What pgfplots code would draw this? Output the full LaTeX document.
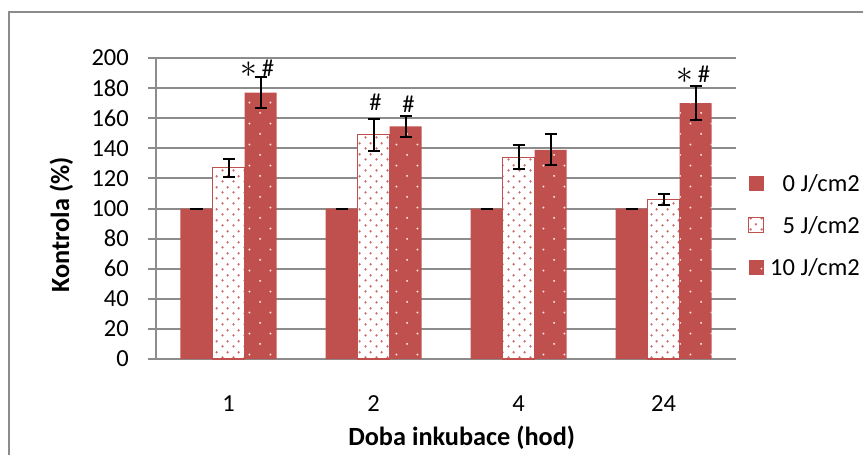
\documentclass[border=0pt]{standalone}
\usepackage{pgfplots}
\pgfplotsset{compat=1.18}
\usepackage{pgfplotstable}
\usepackage{graphicx}
\usepackage{fontspec}
\setmainfont{Carlito}
\usetikzlibrary{patterns.meta}
\definecolor{barred}{HTML}{C0504D}
\definecolor{gridgray}{HTML}{8C8C8C}
\newcommand\cf{\fontsize{24.5bp}{29bp}\selectfont}
\newcommand\lf{\fontsize{26.3bp}{31bp}\selectfont\bfseries}
\newcommand\myast{\raisebox{-1.5bp}{\scalebox{1.35}{$\ast$}}}

\tikzdeclarepattern{
  name=reddots, type=colored,
  bounding box={(0,0) and (11bp,10.6bp)},
  tile size={(11bp,10.6bp)},
  code={
    \fill[barred!85!white] (2.75bp,2.65bp) circle (1.35bp);
    \fill[barred!85!white] (8.25bp,7.95bp) circle (1.35bp);
  }
}
\tikzdeclarepattern{
  name=whitedots, type=colored,
  bounding box={(0,0) and (21.3bp,21.3bp)},
  tile size={(21.3bp,21.3bp)},
  code={
    \fill[white!85!barred] (5.3bp,5.3bp) circle (1.1bp);
    \fill[white!85!barred] (15.95bp,15.95bp) circle (1.1bp);
  }
}

\pgfplotstableread{
x v0 e0 v5 e5 v10 e10
0 100 0 127 6 177 10.5
1 100 0 149 10.5 154.5 7
2 100 0 134 8 139 10.3
3 100 0 106 3.7 170 11.5
}\data

\begin{document}
\begin{tikzpicture}
\useasboundingbox (0,0) rectangle (863bp,-455bp);
\clip (0,0) rectangle (863bp,-455bp);
\draw[gridgray, line width=2bp] (9bp,-12bp) rectangle (900bp,-500bp);
\begin{axis}[
  at={(156bp,-359bp)}, anchor=south west,
  scale only axis, width=580bp, height=301bp,
  xmin=-0.5, xmax=3.5, ymin=0, ymax=200,
  ybar=0pt, bar width=32bp,
  legend image code/.code={
    \pgfpathrectangle{\pgfpoint{0bp}{-21bp}}{\pgfpoint{15bp}{42bp}}\pgfusepath{discard}
    \path (0bp,-7.5bp) rectangle (15bp,7.5bp);
  },
  axis x line*=bottom, axis y line*=left,
  axis line style={gridgray, line width=2bp, -},
  xtick={0,1,2,3}, xticklabels={1,2,4,24},
  xtick style={draw=none},
  ytick={0,20,...,200},
  ytick style={gridgray, line width=2bp},
  tick align=outside, major tick length=8bp,
  ymajorgrids, grid style={gridgray, line width=2bp},
  /pgf/number format/assume math mode=true,
  tick label style={font=\cf},
  yticklabel style={anchor=east, inner sep=0pt, xshift=-19bp},
  xticklabel style={anchor=base, inner sep=0pt, yshift=-44bp},
  legend style={draw=none, fill=none, at={(1.0207,0.6545)}, anchor=north west,
    inner sep=0pt, outer sep=0pt, row sep=0pt, column sep=6bp,
    nodes={inner sep=0pt, font=\cf, text height=16bp, text depth=0bp}},
  legend cell align=right,
  error bars/y dir=both, error bars/y explicit,
  error bars/error bar style={line width=2bp, black, solid},
  error bars/error mark options={rotate=90, mark size=6bp, line width=2bp, black},
  clip=false,
]
\addplot[fill=barred, draw=none] table[x=x, y=v0, y error=e0] {\data};
\addplot[fill=white, draw=barred, line width=1.2bp, postaction={pattern=reddots}] table[x=x, y=v5, y error=e5] {\data};
\addplot[fill=barred, draw=none, postaction={pattern=whitedots}] table[x=x, y=v10, y error=e10] {\data};
\legend{0 J/cm2, 5 J/cm2, 10 J/cm2}
\node[font=\cf, anchor=base, inner sep=0pt, xshift=29bp] at (axis cs:0,188) {\myast\,\#};
\node[font=\cf, anchor=base, inner sep=0pt, xshift=2bp] at (axis cs:1,164.8) {\#};
\node[font=\cf, anchor=base, inner sep=0pt, xshift=35bp] at (axis cs:1,163.5) {\#};
\node[font=\cf, anchor=base, inner sep=0pt, xshift=30bp] at (axis cs:3,184) {\myast\,\#};
\node[font=\lf, anchor=base, inner sep=0pt] at (axis description cs:0.527,-0.289) {Doba inkubace (hod)};
\node[font=\lf, anchor=center, rotate=90, inner sep=0pt] at (axis description cs:-0.163,0.445) {Kontrola (\%)};
\end{axis}
\end{tikzpicture}
\end{document}
